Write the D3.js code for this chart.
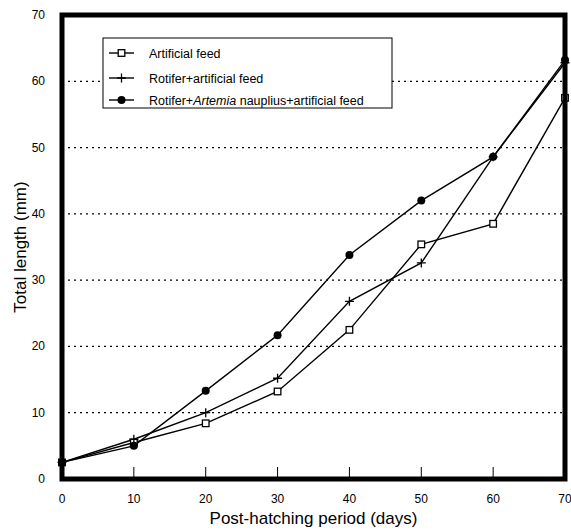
<!DOCTYPE html>
<html>
<head>
<meta charset="utf-8">
<script src="https://cdn.jsdelivr.net/npm/d3@7"></script>
<style>
  body { margin: 0; background: #fff; }
  svg { font-family: Arial, "Liberation Sans", sans-serif; }
</style>
</head>
<body>
<div id="chart"></div>
<script>
// Days after hatching
const days = [0, 10, 20, 30, 40, 50, 60, 70];

// Total length (mm) for each feeding regime
const artificialFeed = [2.5, 5.5, 8.4, 13.2, 22.5, 35.4, 38.5, 57.5];
const rotiferArtificial = [2.5, 6.0, 10.0, 15.2, 26.8, 32.6, 48.6, 62.8];
const rotiferArtemia = [2.5, 5.0, 13.3, 21.7, 33.8, 42.0, 48.6, 63.2];

const xTicks = [0, 10, 20, 30, 40, 50, 60, 70];
const yTicks = [0, 10, 20, 30, 40, 50, 60, 70];
const gridValues = [10, 20, 30, 40, 50, 60];

const series = [
    { name: "Artificial feed", values: artificialFeed, marker: "square" },
    { name: "Rotifer+artificial feed", values: rotiferArtificial, marker: "plus" },
    { name: "Rotifer+Artemia nauplius+artificial feed", values: rotiferArtemia, marker: "circle" }
];

const width = 571, height = 530;
const margin = { top: 15, right: 6, bottom: 51, left: 62 };
const innerW = width - margin.left - margin.right;
const innerH = height - margin.top - margin.bottom;

const svg = d3.select("#chart")
    .append("svg")
    .attr("width", width)
    .attr("height", height);

const g = svg.append("g")
    .attr("transform", `translate(${margin.left},${margin.top})`);

const x = d3.scaleLinear().domain([0, 70]).range([0, innerW]);
const y = d3.scaleLinear().domain([0, 70]).range([innerH, 0]);

// dotted grid lines
g.selectAll("line.grid")
    .data(gridValues)
    .enter()
    .append("line")
    .attr("class", "grid")
    .attr("x1", 0)
    .attr("x2", innerW)
    .attr("y1", d => y(d))
    .attr("y2", d => y(d))
    .attr("stroke", "#000")
    .attr("stroke-width", 1.2)
    .attr("stroke-dasharray", "2,4");

// inner ticks on the bottom axis
g.selectAll("line.xtick")
    .data(xTicks.slice(1, -1))
    .enter()
    .append("line")
    .attr("x1", d => x(d))
    .attr("x2", d => x(d))
    .attr("y1", innerH)
    .attr("y2", innerH - 12)
    .attr("stroke", "#000")
    .attr("stroke-width", 1);

// tick labels
g.selectAll("text.xlab")
    .data(xTicks)
    .enter()
    .append("text")
    .attr("x", d => x(d))
    .attr("y", innerH + 24)
    .attr("text-anchor", "middle")
    .style("font-size", "12px")
    .text(d => d);

g.selectAll("text.ylab")
    .data(yTicks)
    .enter()
    .append("text")
    .attr("x", -17)
    .attr("y", d => y(d) + 4)
    .attr("text-anchor", "end")
    .style("font-size", "12px")
    .text(d => d);

// lines and markers
const line = d3.line()
    .x((d, i) => x(days[i]))
    .y(d => y(d));

series.forEach(s => {
    g.append("path")
        .datum(s.values)
        .attr("d", line)
        .attr("fill", "none")
        .attr("stroke", "#000")
        .attr("stroke-width", 1.4);
});

function drawMarker(sel, type, cx, cy) {
    if (type === "square") {
        sel.append("rect")
            .attr("x", cx - 3.3).attr("y", cy - 3.3)
            .attr("width", 6.6).attr("height", 6.6)
            .attr("fill", "#fff").attr("stroke", "#000").attr("stroke-width", 1.3);
    } else if (type === "plus") {
        sel.append("path")
            .attr("d", `M${cx - 4.5},${cy}H${cx + 4.5}M${cx},${cy - 4.5}V${cy + 4.5}`)
            .attr("stroke", "#000").attr("stroke-width", 1.3);
    } else {
        sel.append("circle")
            .attr("cx", cx).attr("cy", cy).attr("r", 4)
            .attr("fill", "#000");
    }
}

series.forEach(s => {
    s.values.forEach((v, i) => drawMarker(g, s.marker, x(days[i]), y(v)));
});

// frame
g.append("rect")
    .attr("x", 0).attr("y", 0)
    .attr("width", innerW).attr("height", innerH)
    .attr("fill", "none")
    .attr("stroke", "#000")
    .attr("stroke-width", 5);

// legend
const legend = svg.append("g").attr("transform", "translate(103,38)");
legend.append("rect")
    .attr("width", 289).attr("height", 70)
    .attr("fill", "#fff").attr("stroke", "#000").attr("stroke-width", 1);

const rowY = [15, 40, 62];
series.forEach((s, i) => {
    const row = legend.append("g").attr("transform", `translate(0,${rowY[i]})`);
    row.append("line")
        .attr("x1", 6).attr("x2", 31)
        .attr("stroke", "#000").attr("stroke-width", 1.4);
    drawMarker(row, s.marker, 18.5, 0);
    const t = row.append("text")
        .attr("x", 46).attr("y", 4.5)
        .style("font-size", "12.5px");
    if (s.marker === "circle") {
        t.append("tspan").text("Rotifer+");
        t.append("tspan").style("font-style", "italic").text("Artemia");
        t.append("tspan").text(" nauplius+artificial feed");
    } else {
        t.text(s.name);
    }
});

// axis titles
svg.append("text")
    .attr("x", margin.left + innerW / 2)
    .attr("y", 524)
    .attr("text-anchor", "middle")
    .style("font-size", "17px")
    .text("Post-hatching period (days)");

svg.append("text")
    .attr("transform", `translate(26,${margin.top + innerH / 2}) rotate(-90)`)
    .attr("text-anchor", "middle")
    .style("font-size", "17px")
    .text("Total length (mm)");
</script>
</body>
</html>
